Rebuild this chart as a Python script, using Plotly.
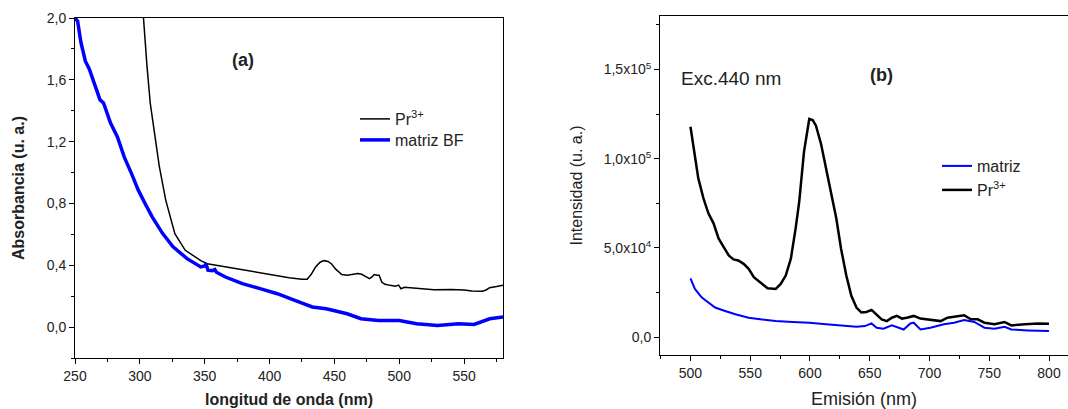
import plotly.graph_objects as go

# ---- Panel (a): absorbance ----
abs_pr_x = [301.5, 302.8, 305.5, 308, 311.4, 315, 320, 327, 335, 341.7, 347, 352, 366, 379, 393, 406, 415, 425,
            429, 432, 435.6, 439, 442, 445, 447.7, 451, 455.7, 460, 465, 468, 471, 474, 477, 479, 480.7, 483,
            484.5, 486.6, 489, 493, 497, 499.5, 501.3, 504, 508, 515, 526.8, 540, 550, 556, 564, 567, 569.7, 575, 580]
abs_pr_y = [2.2, 2.0, 1.69, 1.45, 1.25, 1.04, 0.82, 0.605, 0.497, 0.46, 0.43, 0.41, 0.39, 0.37, 0.35, 0.335, 0.32, 0.31,
            0.31, 0.34, 0.39, 0.42, 0.43, 0.425, 0.41, 0.375, 0.34, 0.335, 0.34, 0.346, 0.342, 0.33, 0.313, 0.325, 0.34, 0.335,
            0.335, 0.29, 0.277, 0.27, 0.264, 0.272, 0.248, 0.258, 0.255, 0.248, 0.242, 0.243, 0.24, 0.233, 0.232, 0.24, 0.255, 0.262, 0.27]

abs_bf_x = [250, 252, 254.6, 258, 261, 264, 269.3, 272, 277.4, 282.7, 288, 293.5, 298.8, 304, 309.5, 317.6, 325.6,
            336.4, 347, 350, 351, 352.5, 356, 357.8, 359, 366, 379, 392.7, 406, 419.5, 433, 443.7, 459.8, 470.5,
            484, 500, 513.4, 529.5, 545.6, 557.7, 563, 569.8, 580]
abs_bf_y = [2.00, 1.98, 1.84, 1.72, 1.67, 1.60, 1.47, 1.45, 1.32, 1.23, 1.10, 0.995, 0.886, 0.80, 0.713, 0.605, 0.52,
            0.443, 0.389, 0.395, 0.41, 0.368, 0.365, 0.372, 0.355, 0.324, 0.281, 0.249, 0.216, 0.173, 0.13, 0.119, 0.086, 0.054,
            0.043, 0.043, 0.022, 0.011, 0.022, 0.017, 0.032, 0.054, 0.065]

abs_xticks = [250, 300, 350, 400, 450, 500, 550]
abs_yticks = [0.0, 0.4, 0.8, 1.2, 1.6, 2.0]
abs_yticklabels = ["0,0", "0,4", "0,8", "1,2", "1,6", "2,0"]

# ---- Panel (b): emission ----
em_pr_x = [500, 503.7, 506.5, 510.8, 515, 519.3, 523.5, 527.7, 532, 536, 540, 544.5, 548.7, 553, 560, 564.5, 571.3,
           575.5, 579.7, 584, 588, 591, 595, 599.4, 602.3, 605, 609.3, 613.5, 617.7, 622, 626, 630.4, 634.6, 638.9,
           643, 647.3, 651.5, 655.8, 660, 664.3, 668.5, 672.7, 677, 681, 686.8, 692.4, 700.8, 709.3, 715, 723.4,
           729, 734.6, 740.3, 746, 754.4, 762.8, 768.5, 779.7, 791, 800]
em_pr_y = [117900, 100600, 89200, 77900, 69400, 63800, 55300, 50600, 45800, 43600, 43000, 41100, 38300, 33600, 29800,
           27400, 27000, 29800, 34500, 44000, 61000, 76000, 104000, 122300, 121700, 118500, 108100, 95000, 81700, 66600,
           49600, 34500, 23200, 16600, 13800, 14150, 15300, 12800, 10000, 9000, 10900, 11900, 10400, 10900, 11900, 10400,
           9600, 9000, 10900, 11500, 12300, 10000, 10000, 8100, 7200, 8500, 6600, 7200, 7700, 7500]

em_bf_x = [500, 503.7, 509.3, 515, 520.6, 529, 537.5, 548.7, 560, 571.3, 585.4, 599.4, 613.5, 627.6, 638.9, 646,
           651.5, 655.8, 661.5, 668.5, 672.7, 678.4, 684, 686.8, 692.4, 700.8, 712, 720.6, 729, 737.5, 746, 754.4,
           762.8, 768.5, 782.5, 800]
em_bf_y = [33000, 27000, 22300, 19400, 16600, 14700, 12800, 10900, 10000, 9000, 8500, 8100, 7200, 6200, 5800, 6200,
           7700, 5300, 4700, 6600, 5800, 4300, 7700, 8100, 4300, 5300, 7200, 8100, 9600, 8500, 5300, 4700, 5800, 4300,
           3800, 3400]

em_xticks = [500, 550, 600, 650, 700, 750, 800]
em_yticks = [0, 50000, 100000, 150000]
em_yticklabels = ["0,0", "5,0x10<sup>4</sup>", "1,0x10<sup>5</sup>", "1,5x10<sup>5</sup>"]

FONT = "Liberation Sans, Arial, sans-serif"
TXT = "#222222"
W, H = 1068, 409

fig = go.Figure()
fig.add_trace(go.Scatter(x=abs_pr_x, y=abs_pr_y, mode="lines", name="Pr<sup>3+</sup>", showlegend=True,
                         line=dict(color="black", width=1.5), xaxis="x", yaxis="y", legend="legend2"))
fig.add_trace(go.Scatter(x=abs_bf_x, y=abs_bf_y, mode="lines", name="matriz BF", showlegend=True,
                         line=dict(color="#0000ff", width=3.5), xaxis="x", yaxis="y", legend="legend3"))
fig.add_trace(go.Scatter(x=em_bf_x, y=em_bf_y, mode="lines", name="matriz", showlegend=True,
                         line=dict(color="#0000ff", width=2), xaxis="x2", yaxis="y2", legend="legend4"))
fig.add_trace(go.Scatter(x=em_pr_x, y=em_pr_y, mode="lines", name="Pr<sup>3+</sup>", showlegend=True,
                         line=dict(color="black", width=2.5), xaxis="x2", yaxis="y2", legend="legend5"))

axis_common = dict(showline=True, linecolor="black", linewidth=1, ticks="outside", ticklen=5,
                   tickcolor="black", showgrid=False, zeroline=False, automargin=False,
                   minor=dict(ticks="outside", ticklen=3, tickcolor="black"))


def leg(xpx, ypx, size):
    return dict(x=xpx / W, y=1 - ypx / H, xanchor="left", yanchor="middle", bgcolor="rgba(0,0,0,0)",
                font=dict(size=size, color=TXT), tracegroupgap=0)


fig.update_layout(
    width=W, height=H, margin=dict(l=0, r=0, t=0, b=0), showlegend=True,
    paper_bgcolor="white", plot_bgcolor="white",
    font=dict(family=FONT, color=TXT),
    xaxis=dict(**axis_common, domain=[75 / W, 503 / W], range=[250, 580], anchor="y", mirror=True,
               tickvals=abs_xticks, tickfont=dict(size=14),
               minor_dtick=25,
               title=dict(text="<b>longitud de onda (nm)</b>", font=dict(size=16), standoff=11)),
    yaxis=dict(**axis_common, domain=[51 / H, 391 / H], range=[-0.2, 2.0], anchor="x", mirror=True,
               tickvals=abs_yticks, ticktext=abs_yticklabels, tickfont=dict(size=14),
               minor_dtick=0.2,
               title=dict(text="<b>Absorbancia (u. a.)</b>", font=dict(size=16), standoff=18)),
    xaxis2=dict(**axis_common, domain=[660 / W, 1.0], range=[474.5, 815.9], anchor="y2", mirror=True,
                tickvals=em_xticks, tickfont=dict(size=14),
                minor_dtick=25,
                title=dict(text="Emisión (nm)", font=dict(size=18), standoff=13)),
    yaxis2=dict(**axis_common, domain=[54 / H, 393 / H], range=[-10000, 180000], anchor="x2",
                tickvals=em_yticks, ticktext=em_yticklabels, tickfont=dict(size=14),
                minor_dtick=25000,
                title=dict(text="Intensidad (u. a.)", font=dict(size=16), standoff=17)),
    legend2=leg(355, 119, 16),
    legend3=leg(355, 140, 16),
    legend4=leg(937, 166, 16),
    legend5=leg(937, 190, 16),
    annotations=[
        dict(text="<b>(a)</b>", x=243 / W, y=1 - 60 / H, xref="paper", yref="paper", showarrow=False,
             xanchor="center", yanchor="middle", font=dict(size=18, color=TXT)),
        dict(text="<b>(b)</b>", x=881 / W, y=1 - 75 / H, xref="paper", yref="paper", showarrow=False,
             xanchor="center", yanchor="middle", font=dict(size=18, color=TXT)),
        dict(text="Exc.440 nm", x=679 / W, y=1 - 79 / H, xref="paper", yref="paper", showarrow=False,
             xanchor="left", yanchor="middle", font=dict(size=19, color=TXT)),
    ],
)

fig.write_html("out.html", config={"displayModeBar": False},
               post_script="document.body.style.margin='0';document.body.style.overflow='hidden';")
